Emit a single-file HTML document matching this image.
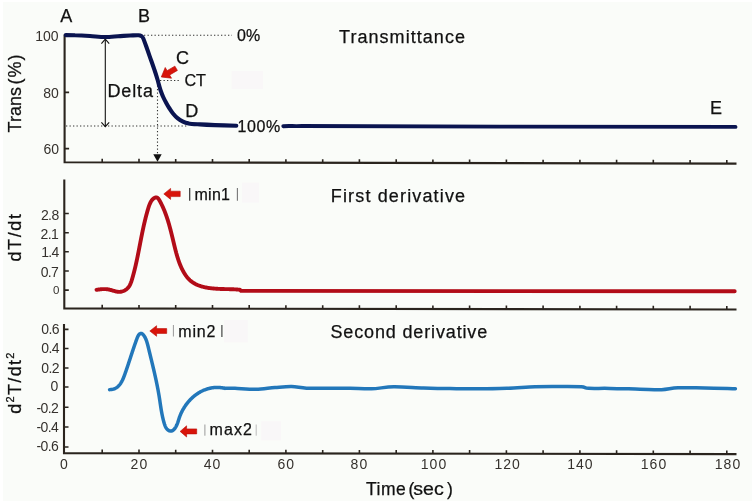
<!DOCTYPE html>
<html><head><meta charset="utf-8">
<style>
html,body{margin:0;padding:0;background:#fafcf9;}
body{width:755px;height:501px;overflow:hidden;}
svg{display:block;will-change:transform;}
text{font-family:"Liberation Sans",sans-serif;fill:#111;stroke:#111;stroke-width:0.25px;}
.tk,.tkd,.xt{stroke:none;}
.tk{font-size:14px;fill:#35312d;}
.tkd{font-size:14px;fill:#35312d;letter-spacing:-0.6px;}
.xt{font-size:14px;fill:#35312d;}
.big{font-size:18px;}
.ax{stroke:#2a241e;stroke-width:2.1;fill:none;}
.tic{stroke:#2a241e;stroke-width:1.6;fill:none;}
.dot{stroke:#333;stroke-width:1.1;stroke-dasharray:1.3 2.2;fill:none;}
</style></head>
<body>
<svg width="755" height="501" viewBox="0 0 755 501">
<rect x="0" y="0" width="755" height="501" fill="#fafcf9"/>

<!-- ============ TOP PANEL ============ -->
<path class="ax" d="M64.6 34.5 V162.3 L736.5 163.6"/>
<path class="tic" d="M64.6 92.4 h4.5 M64.6 148.6 h4.5"/>
<path class="tic" d="M102.2 162.37 v-3.6 M139.0 162.45 v-3.6 M175.7 162.52 v-3.6 M212.5 162.59 v-3.6 M249.2 162.66 v-3.6 M285.9 162.73 v-3.6 M322.7 162.80 v-3.6 M359.4 162.87 v-3.6 M396.2 162.94 v-3.6 M432.9 163.01 v-3.6 M469.6 163.08 v-3.6 M506.4 163.16 v-3.6 M543.1 163.23 v-3.6 M579.9 163.30 v-3.6 M616.6 163.37 v-3.6 M653.3 163.44 v-3.6 M690.1 163.51 v-3.6 M726.8 163.58 v-3.6"/>
<text class="tk" x="58.6" y="41" text-anchor="end">100</text>
<text class="tk" x="58.8" y="97.7" text-anchor="end">80</text>
<text class="tk" x="59" y="153.7" text-anchor="end">60</text>

<path class="dot" d="M144 35.3 H232"/>
<path class="dot" d="M160 80.5 H180"/>
<path class="dot" d="M66 126 H188"/>
<path class="dot" d="M157.5 82 V155"/>
<path d="M153.3 154.3 L161.7 154.3 L157.5 161.8 Z" fill="#111"/>
<path d="M105.3 39.2 V126.5" stroke="#111" stroke-width="1.1" fill="none"/>
<path d="M101.4 43.6 L105.3 39.2 L109.2 43.6 M101.4 122.3 L105.3 126.7 L109.2 122.3" stroke="#111" stroke-width="1.1" fill="none"/>

<path d="M65.8 35.1 C67.3 35.1 71.0 35.1 75.0 35.3 C79.0 35.4 85.0 35.7 90.0 36.0 C95.0 36.3 100.3 37.0 105.0 37.0 C109.7 37.0 113.8 36.5 118.0 36.2 C122.2 36.0 126.6 35.6 130.0 35.5 C133.4 35.4 136.6 35.2 138.5 35.3 C140.4 35.4 140.5 35.5 141.3 36.0 C142.1 36.5 142.3 36.2 143.3 38.5 C144.3 40.8 146.2 46.4 147.5 50.0 C148.8 53.6 149.8 56.7 151.0 60.0 C152.2 63.3 153.4 66.8 154.5 70.0 C155.6 73.2 156.7 76.8 157.5 79.5 C158.3 82.2 158.7 84.0 159.3 86.0 C159.9 88.0 160.3 89.7 161.0 91.5 C161.7 93.3 162.4 95.2 163.2 97.0 C164.0 98.8 165.0 100.7 166.0 102.5 C167.0 104.3 168.0 106.2 169.2 108.0 C170.4 109.8 171.6 111.8 173.0 113.5 C174.4 115.2 175.8 116.8 177.5 118.2 C179.2 119.6 181.2 120.8 183.0 121.7 C184.8 122.6 185.7 123.0 188.5 123.4 C191.3 123.9 195.6 124.1 200.0 124.4 C204.4 124.7 208.9 124.9 215.0 125.1 C221.1 125.3 232.8 125.7 236.3 125.8" stroke="#0a1450" stroke-width="4.1" fill="none" stroke-linecap="round" stroke-linejoin="round"/>
<path d="M283.3 126.2 C288 125.8 295 126.3 302 126 C330 126.2 400 126.4 500 126.6 C600 126.7 680 126.8 735.5 126.9" stroke="#0a1450" stroke-width="3.9" fill="none" stroke-linecap="round"/>

<text class="big" x="60.3" y="21.9">A</text>
<text class="big" x="137.9" y="21.9">B</text>
<text class="big" x="176.1" y="63.8">C</text>
<text x="184.4" y="85.9" style="font-size:16.2px">CT</text>
<text class="big" x="185.2" y="117">D</text>
<text class="big" x="710" y="114.4">E</text>
<text class="big" x="107.5" y="96.5" style="letter-spacing:0.85px">Delta</text>
<text x="237" y="41" style="font-size:16px">0%</text>
<text x="237.6" y="131.6" style="font-size:16px;letter-spacing:0.6px">100%</text>
<text class="big" x="339" y="43.1" style="letter-spacing:1.05px">Transmittance</text>
<text class="big" transform="translate(20.6,132.4) rotate(-90)">Trans<tspan dx="2.5">(</tspan><tspan dx="1">%</tspan><tspan dx="1">)</tspan></text>

<g transform="translate(161.30,77.00) rotate(149.6)" fill="#d8140a" stroke="#b80c06" stroke-width="0.6" stroke-linejoin="round"><path d="M0 0 L-8.20 -6.20 L-8.20 -2.50 L-17.20 -2.50 L-17.20 2.50 L-8.20 2.50 L-8.20 6.20 Z"/></g>

<!-- ============ MIDDLE PANEL ============ -->
<path class="ax" d="M64.3 179.5 V308.4 L736.5 309.5"/>
<path class="tic" d="M64.3 213.5 h4.5 M64.3 232.7 h4.5 M64.3 251.8 h4.5 M64.3 271 h4.5 M64.3 290.1 h4.5"/>
<path class="tic" d="M102.2 308.46 v-3.6 M139.0 308.52 v-3.6 M175.7 308.58 v-3.6 M212.5 308.64 v-3.6 M249.2 308.70 v-3.6 M285.9 308.76 v-3.6 M322.7 308.82 v-3.6 M359.4 308.88 v-3.6 M396.2 308.94 v-3.6 M432.9 309.00 v-3.6 M469.6 309.06 v-3.6 M506.4 309.12 v-3.6 M543.1 309.18 v-3.6 M579.9 309.24 v-3.6 M616.6 309.30 v-3.6 M653.3 309.36 v-3.6 M690.1 309.42 v-3.6 M726.8 309.48 v-3.6"/>
<text class="tkd" x="58.6" y="219.5" text-anchor="end">2.8</text>
<text class="tkd" x="58.2" y="238.8" text-anchor="end">2.1</text>
<text class="tkd" x="58.8" y="257" text-anchor="end">1.4</text>
<text class="tkd" x="58.3" y="277" text-anchor="end">0.7</text>
<text class="tk" x="59.5" y="294" text-anchor="end" style="font-size:11.5px">0</text>

<path d="M96.49 289.83 L97.19 289.73 L97.88 289.64 L98.57 289.54 L99.25 289.46 L99.93 289.37 L100.62 289.30 L101.30 289.23 L101.97 289.17 L102.65 289.13 L103.33 289.10 L104.00 289.08 L104.68 289.08 L105.35 289.10 L106.02 289.13 L106.70 289.19 L107.37 289.27 L108.05 289.38 L108.73 289.51 L109.41 289.66 L110.08 289.83 L110.76 290.01 L111.44 290.20 L112.12 290.40 L112.80 290.60 L113.48 290.80 L114.16 290.99 L114.84 291.17 L115.51 291.34 L116.19 291.49 L116.86 291.61 L117.54 291.72 L118.21 291.79 L118.88 291.84 L119.54 291.84 L120.21 291.80 L120.87 291.73 L121.52 291.61 L122.17 291.45 L122.81 291.25 L123.44 291.01 L124.06 290.74 L124.66 290.43 L125.24 290.09 L125.81 289.72 L126.36 289.32 L126.88 288.89 L127.38 288.43 L127.85 287.94 L128.30 287.43 L128.72 286.90 L129.10 286.34 L129.46 285.77 L129.80 285.17 L130.11 284.56 L130.40 283.94 L130.67 283.30 L130.93 282.65 L131.17 281.99 L131.40 281.33 L131.61 280.66 L131.82 279.99 L132.03 279.31 L132.23 278.63 L132.42 277.96 L132.62 277.28 L132.81 276.61 L132.99 275.93 L133.18 275.26 L133.36 274.59 L133.54 273.92 L133.72 273.25 L133.90 272.58 L134.07 271.91 L134.24 271.24 L134.41 270.57 L134.58 269.90 L134.74 269.24 L134.91 268.57 L135.07 267.90 L135.23 267.24 L135.38 266.57 L135.54 265.91 L135.69 265.25 L135.84 264.58 L135.99 263.92 L136.14 263.25 L136.29 262.59 L136.44 261.93 L136.58 261.27 L136.72 260.61 L136.86 259.94 L137.00 259.28 L137.14 258.62 L137.28 257.96 L137.42 257.30 L137.55 256.64 L137.69 255.98 L137.82 255.32 L137.96 254.66 L138.09 254.00 L138.22 253.34 L138.35 252.68 L138.48 252.02 L138.61 251.36 L138.74 250.70 L138.87 250.04 L139.00 249.37 L139.13 248.71 L139.26 248.05 L139.38 247.39 L139.51 246.73 L139.64 246.07 L139.76 245.41 L139.89 244.75 L140.02 244.08 L140.15 243.42 L140.27 242.76 L140.40 242.10 L140.53 241.43 L140.66 240.77 L140.79 240.10 L140.92 239.44 L141.05 238.77 L141.18 238.11 L141.31 237.44 L141.44 236.78 L141.57 236.11 L141.71 235.44 L141.84 234.77 L141.98 234.10 L142.11 233.43 L142.25 232.76 L142.39 232.09 L142.53 231.42 L142.67 230.75 L142.81 230.08 L142.95 229.40 L143.10 228.73 L143.24 228.05 L143.39 227.38 L143.54 226.70 L143.69 226.02 L143.84 225.35 L143.99 224.67 L144.15 223.99 L144.31 223.30 L144.46 222.62 L144.63 221.94 L144.79 221.25 L144.95 220.57 L145.12 219.88 L145.29 219.20 L145.46 218.51 L145.63 217.82 L145.81 217.13 L145.99 216.44 L146.17 215.74 L146.35 215.05 L146.54 214.35 L146.73 213.66 L146.92 212.96 L147.11 212.26 L147.31 211.56 L147.51 210.86 L147.71 210.15 L147.92 209.45 L148.12 208.75 L148.34 208.04 L148.56 207.35 L148.78 206.65 L149.02 205.97 L149.26 205.30 L149.52 204.64 L149.78 203.99 L150.06 203.36 L150.35 202.75 L150.65 202.16 L150.97 201.59 L151.30 201.04 L151.65 200.52 L152.02 200.03 L152.41 199.57 L152.82 199.14 L153.26 198.74 L153.71 198.39 L154.19 198.07 L154.68 197.79 L155.19 197.59 L155.70 197.46 L156.21 197.43 L156.70 197.50 L157.18 197.68 L157.63 197.96 L158.05 198.34 L158.45 198.80 L158.83 199.33 L159.19 199.91 L159.54 200.52 L159.88 201.14 L160.22 201.76 L160.55 202.38 L160.87 203.00 L161.19 203.63 L161.50 204.26 L161.81 204.89 L162.11 205.52 L162.41 206.15 L162.70 206.78 L162.99 207.42 L163.27 208.05 L163.55 208.69 L163.82 209.33 L164.09 209.97 L164.36 210.61 L164.62 211.25 L164.87 211.90 L165.12 212.54 L165.37 213.19 L165.61 213.84 L165.85 214.48 L166.08 215.13 L166.31 215.78 L166.54 216.44 L166.76 217.09 L166.99 217.74 L167.20 218.40 L167.42 219.05 L167.63 219.71 L167.83 220.36 L168.04 221.02 L168.24 221.68 L168.44 222.34 L168.63 223.00 L168.83 223.66 L169.02 224.32 L169.21 224.98 L169.39 225.65 L169.58 226.31 L169.76 226.97 L169.94 227.64 L170.11 228.30 L170.29 228.96 L170.47 229.63 L170.64 230.30 L170.81 230.96 L170.98 231.63 L171.15 232.29 L171.31 232.96 L171.48 233.63 L171.64 234.29 L171.81 234.96 L171.97 235.63 L172.13 236.30 L172.30 236.96 L172.46 237.63 L172.62 238.30 L172.78 238.97 L172.94 239.63 L173.10 240.30 L173.26 240.97 L173.42 241.64 L173.58 242.30 L173.74 242.97 L173.90 243.64 L174.06 244.30 L174.22 244.97 L174.38 245.63 L174.54 246.30 L174.71 246.96 L174.87 247.63 L175.04 248.29 L175.21 248.96 L175.37 249.62 L175.54 250.28 L175.72 250.94 L175.89 251.60 L176.07 252.26 L176.24 252.92 L176.43 253.58 L176.61 254.24 L176.80 254.90 L176.99 255.56 L177.18 256.21 L177.38 256.87 L177.58 257.52 L177.79 258.17 L178.00 258.83 L178.21 259.48 L178.43 260.13 L178.65 260.78 L178.88 261.43 L179.11 262.07 L179.35 262.72 L179.59 263.36 L179.84 264.01 L180.10 264.65 L180.36 265.29 L180.63 265.93 L180.90 266.57 L181.18 267.20 L181.47 267.84 L181.76 268.46 L182.06 269.09 L182.37 269.71 L182.69 270.33 L183.01 270.94 L183.34 271.54 L183.68 272.14 L184.03 272.74 L184.38 273.32 L184.75 273.90 L185.12 274.47 L185.50 275.03 L185.89 275.59 L186.29 276.13 L186.69 276.66 L187.11 277.19 L187.54 277.70 L187.97 278.20 L188.42 278.69 L188.87 279.17 L189.34 279.64 L189.81 280.09 L190.30 280.53 L190.80 280.95 L191.31 281.36 L191.82 281.76 L192.35 282.14 L192.89 282.51 L193.44 282.86 L194.00 283.20 L194.57 283.53 L195.15 283.85 L195.73 284.15 L196.33 284.44 L196.93 284.72 L197.54 284.99 L198.16 285.24 L198.78 285.48 L199.42 285.72 L200.06 285.94 L200.70 286.15 L201.36 286.35 L202.01 286.54 L202.68 286.73 L203.35 286.90 L204.03 287.06 L204.71 287.22 L205.39 287.36 L206.08 287.50 L206.78 287.63 L207.48 287.76 L208.18 287.87 L208.88 287.98 L209.59 288.08 L210.30 288.17 L211.02 288.26 L211.74 288.34 L212.45 288.42 L213.17 288.49 L213.90 288.55 L214.62 288.61 L215.34 288.67 L216.07 288.72 L216.80 288.77 L217.52 288.81 L218.25 288.85 L218.97 288.88 L219.70 288.92 L220.42 288.95 L221.15 288.97 L221.87 289.00 L222.59 289.02 L223.30 289.04 L224.02 289.06 L224.73 289.08 L225.44 289.10 L226.15 289.11 L226.86 289.13 L227.56 289.14 L228.25 289.16 L228.95 289.17 L229.64 289.19 L230.32 289.21 L231.00 289.23 L231.67 289.25 L232.34 289.27 L233.00 289.29 L233.66 289.32 L234.31 289.35 L234.96 289.38 L235.59 289.41 L236.22 289.45 L236.85 289.49 L237.46 289.54 L238.07 289.58 L238.67 289.64 L239.26 289.70 L239.84 289.76 L241 290.9 L734.7 291.3" stroke="#b20c18" stroke-width="3.9" fill="none" stroke-linecap="round" stroke-linejoin="round"/>

<text class="big" x="330.8" y="201.8" style="letter-spacing:1.15px">First derivative</text>
<text class="big" transform="translate(20.6,237) rotate(-90)" text-anchor="middle" style="letter-spacing:1.6px">dT/dt</text>

<g transform="translate(163.80,193.90) rotate(180.0)" fill="#d8140a" stroke="#b80c06" stroke-width="0.6" stroke-linejoin="round"><path d="M0 0 L-6.80 -5.50 L-6.80 -2.70 L-16.40 -2.70 L-16.40 2.70 L-6.80 2.70 L-6.80 5.50 Z"/></g>
<path d="M189.7 188 V200.7" stroke="#333" stroke-width="1.2"/>
<path d="M237.4 188 V200.7" stroke="#777" stroke-width="1.1"/>
<text x="194.6" y="199.9" style="font-size:16px;letter-spacing:0.2px">min1</text>

<!-- ============ BOTTOM PANEL ============ -->
<path class="ax" d="M64 324 V453.1 L736.5 454.1"/>
<path class="tic" d="M64 329.4 h4.5 M64 348.5 h4.5 M64 368 h4.5 M64 387 h4.5 M64 407.3 h4.5 M64 427 h4.5 M64 447 h4.5"/>
<path class="tic" d="M102.2 453.16 v-3.6 M139.0 453.21 v-3.6 M175.7 453.27 v-3.6 M212.5 453.32 v-3.6 M249.2 453.38 v-3.6 M285.9 453.43 v-3.6 M322.7 453.48 v-3.6 M359.4 453.54 v-3.6 M396.2 453.59 v-3.6 M432.9 453.65 v-3.6 M469.6 453.70 v-3.6 M506.4 453.76 v-3.6 M543.1 453.81 v-3.6 M579.9 453.87 v-3.6 M616.6 453.92 v-3.6 M653.3 453.98 v-3.6 M690.1 454.03 v-3.6 M726.8 454.09 v-3.6"/>
<text class="tkd" x="59" y="333.7" text-anchor="end">0.6</text>
<text class="tkd" x="59" y="353.3" text-anchor="end">0.4</text>
<text class="tkd" x="59" y="372.7" text-anchor="end">0.2</text>
<text class="tk" x="58.3" y="391.4" text-anchor="end">0</text>
<text class="tkd" x="58.3" y="412.8" text-anchor="end">-0.2</text>
<text class="tkd" x="58.3" y="431.8" text-anchor="end">-0.4</text>
<text class="tkd" x="58.3" y="451.4" text-anchor="end">-0.6</text>

<path d="M109.59 389.63 L110.33 389.60 L111.03 389.55 L111.71 389.46 L112.37 389.34 L113.01 389.19 L113.62 389.01 L114.21 388.81 L114.78 388.57 L115.33 388.31 L115.86 388.03 L116.37 387.72 L116.87 387.38 L117.34 387.03 L117.80 386.65 L118.24 386.25 L118.66 385.84 L119.07 385.40 L119.46 384.95 L119.84 384.47 L120.20 383.99 L120.55 383.49 L120.89 382.97 L121.21 382.44 L121.53 381.90 L121.83 381.35 L122.12 380.79 L122.41 380.22 L122.68 379.64 L122.95 379.06 L123.21 378.47 L123.46 377.87 L123.70 377.27 L123.94 376.66 L124.17 376.05 L124.40 375.45 L124.62 374.84 L124.84 374.23 L125.06 373.62 L125.27 373.01 L125.48 372.41 L125.69 371.81 L125.90 371.21 L126.11 370.62 L126.31 370.03 L126.52 369.43 L126.72 368.85 L126.92 368.26 L127.12 367.67 L127.31 367.09 L127.51 366.51 L127.70 365.92 L127.90 365.34 L128.09 364.76 L128.28 364.19 L128.47 363.61 L128.66 363.03 L128.85 362.45 L129.04 361.88 L129.23 361.30 L129.42 360.73 L129.61 360.15 L129.80 359.58 L129.99 359.00 L130.18 358.42 L130.37 357.85 L130.56 357.27 L130.74 356.69 L130.93 356.11 L131.12 355.53 L131.32 354.95 L131.51 354.37 L131.70 353.78 L131.89 353.20 L132.09 352.61 L132.28 352.02 L132.48 351.43 L132.68 350.84 L132.88 350.24 L133.08 349.64 L133.28 349.04 L133.48 348.44 L133.69 347.83 L133.89 347.23 L134.10 346.61 L134.31 346.00 L134.53 345.38 L134.74 344.76 L134.96 344.14 L135.18 343.51 L135.40 342.88 L135.63 342.24 L135.85 341.60 L136.08 340.96 L136.32 340.31 L136.55 339.66 L136.79 339.00 L137.04 338.34 L137.29 337.69 L137.55 337.06 L137.83 336.45 L138.12 335.87 L138.44 335.33 L138.78 334.84 L139.15 334.41 L139.56 334.05 L139.98 333.76 L140.43 333.56 L140.88 333.45 L141.33 333.44 L141.77 333.54 L142.19 333.75 L142.58 334.06 L142.96 334.43 L143.32 334.83 L143.67 335.25 L144.00 335.69 L144.31 336.15 L144.61 336.63 L144.89 337.12 L145.16 337.63 L145.42 338.16 L145.67 338.69 L145.90 339.25 L146.13 339.81 L146.34 340.38 L146.55 340.96 L146.75 341.56 L146.94 342.16 L147.12 342.77 L147.30 343.38 L147.47 344.00 L147.64 344.63 L147.80 345.26 L147.96 345.89 L148.12 346.52 L148.27 347.16 L148.43 347.79 L148.58 348.43 L148.73 349.06 L148.89 349.70 L149.04 350.33 L149.20 350.96 L149.35 351.59 L149.50 352.22 L149.66 352.85 L149.81 353.48 L149.96 354.11 L150.11 354.73 L150.27 355.36 L150.42 355.98 L150.57 356.60 L150.72 357.23 L150.87 357.85 L151.02 358.47 L151.18 359.09 L151.33 359.71 L151.48 360.33 L151.63 360.95 L151.78 361.57 L151.92 362.18 L152.07 362.80 L152.22 363.41 L152.37 364.03 L152.52 364.64 L152.66 365.26 L152.81 365.87 L152.96 366.48 L153.10 367.10 L153.25 367.71 L153.39 368.32 L153.53 368.93 L153.68 369.54 L153.82 370.15 L153.96 370.76 L154.10 371.37 L154.24 371.98 L154.38 372.59 L154.52 373.20 L154.66 373.80 L154.80 374.41 L154.93 375.02 L155.07 375.62 L155.20 376.23 L155.34 376.84 L155.47 377.44 L155.61 378.05 L155.74 378.66 L155.87 379.26 L156.00 379.87 L156.13 380.47 L156.26 381.08 L156.39 381.68 L156.51 382.29 L156.64 382.89 L156.76 383.50 L156.89 384.10 L157.01 384.71 L157.13 385.31 L157.25 385.92 L157.37 386.52 L157.49 387.13 L157.61 387.73 L157.72 388.34 L157.84 388.94 L157.95 389.55 L158.07 390.15 L158.18 390.76 L158.29 391.36 L158.40 391.97 L158.51 392.58 L158.61 393.18 L158.72 393.79 L158.82 394.40 L158.93 395.00 L159.03 395.61 L159.13 396.22 L159.23 396.83 L159.33 397.43 L159.42 398.04 L159.52 398.65 L159.61 399.26 L159.70 399.87 L159.80 400.48 L159.89 401.09 L159.98 401.71 L160.07 402.32 L160.16 402.93 L160.25 403.55 L160.34 404.16 L160.44 404.77 L160.53 405.39 L160.62 406.01 L160.72 406.62 L160.81 407.24 L160.91 407.86 L161.01 408.48 L161.11 409.10 L161.21 409.72 L161.32 410.35 L161.42 410.97 L161.53 411.60 L161.65 412.22 L161.76 412.85 L161.88 413.48 L162.00 414.11 L162.13 414.74 L162.26 415.37 L162.39 416.00 L162.52 416.64 L162.66 417.27 L162.81 417.91 L162.96 418.55 L163.11 419.19 L163.27 419.83 L163.44 420.48 L163.61 421.12 L163.78 421.77 L163.96 422.42 L164.15 423.06 L164.35 423.70 L164.55 424.34 L164.77 424.96 L165.00 425.57 L165.25 426.17 L165.51 426.74 L165.79 427.29 L166.09 427.82 L166.41 428.32 L166.75 428.79 L167.12 429.23 L167.51 429.63 L167.93 429.98 L168.37 430.30 L168.85 430.57 L169.35 430.79 L169.87 430.95 L170.41 431.05 L170.96 431.07 L171.50 431.02 L172.04 430.87 L172.56 430.63 L173.07 430.30 L173.55 429.88 L174.01 429.41 L174.44 428.91 L174.84 428.39 L175.21 427.87 L175.56 427.33 L175.89 426.79 L176.19 426.23 L176.48 425.67 L176.74 425.11 L176.99 424.53 L177.23 423.96 L177.45 423.37 L177.67 422.79 L177.87 422.20 L178.07 421.60 L178.26 421.01 L178.45 420.41 L178.64 419.81 L178.83 419.22 L179.02 418.62 L179.22 418.02 L179.42 417.43 L179.63 416.83 L179.85 416.24 L180.08 415.66 L180.31 415.07 L180.55 414.49 L180.80 413.91 L181.06 413.33 L181.33 412.76 L181.60 412.19 L181.88 411.62 L182.17 411.06 L182.46 410.50 L182.76 409.94 L183.07 409.39 L183.38 408.84 L183.71 408.30 L184.04 407.76 L184.37 407.22 L184.72 406.69 L185.07 406.16 L185.42 405.64 L185.79 405.13 L186.15 404.61 L186.53 404.11 L186.91 403.60 L187.30 403.11 L187.70 402.62 L188.10 402.13 L188.50 401.65 L188.92 401.18 L189.34 400.71 L189.76 400.24 L190.19 399.79 L190.63 399.34 L191.07 398.89 L191.52 398.46 L191.97 398.03 L192.43 397.60 L192.90 397.19 L193.37 396.78 L193.84 396.37 L194.32 395.98 L194.81 395.59 L195.30 395.21 L195.79 394.83 L196.29 394.47 L196.80 394.11 L197.31 393.76 L197.82 393.42 L198.34 393.09 L198.87 392.76 L199.40 392.44 L199.93 392.14 L200.47 391.84 L201.01 391.54 L201.56 391.26 L202.11 390.99 L202.66 390.73 L203.22 390.47 L203.78 390.23 L204.35 389.99 L204.92 389.77 L205.49 389.55 L206.07 389.34 L206.65 389.15 L207.24 388.96 L207.83 388.78 L208.42 388.62 L209.02 388.46 L209.61 388.32 L210.22 388.19 L210.82 388.06 L211.43 387.95 L212.04 387.85 L212.66 387.76 L213.27 387.68 L213.89 387.61 L214.52 387.56 L215.14 387.52 L215.77 387.48 L216.40 387.46 L217.03 387.46 L217.67 387.46 L218.31 387.48 L218.95 387.51 L219.59 387.55 L220.24 387.60 L220.88 387.67 L221.53 387.75 L222.18 387.84 L222.84 387.95 L223.49 388.07 L224.15 388.20 L224.81 388.35 L224.7 388.2 C226.4 388.2 229.8 388.1 235.0 388.3 C240.2 388.5 249.3 389.4 256.0 389.3 C262.7 389.2 269.1 387.9 275.0 387.5 C280.9 387.1 286.4 386.5 291.6 386.6 C296.9 386.7 300.1 387.9 306.5 388.2 C312.9 388.5 322.8 388.2 330.0 388.2 C337.2 388.2 343.1 388.1 350.0 388.2 C356.9 388.3 364.2 389.0 371.5 388.8 C378.8 388.6 385.1 386.9 393.8 386.8 C402.5 386.7 414.1 387.7 423.5 388.0 C432.9 388.3 440.6 388.5 450.0 388.6 C459.4 388.7 470.5 388.9 480.0 388.8 C489.5 388.8 497.8 388.6 507.0 388.3 C516.2 388.0 526.2 387.1 535.0 386.8 C543.8 386.5 552.3 386.6 560.0 386.6 C567.7 386.6 576.5 386.5 581.3 386.8 C586.1 387.1 583.9 388.0 588.7 388.3 C593.5 388.6 601.5 388.2 610.0 388.4 C618.5 388.5 631.4 389.0 640.0 389.2 C648.6 389.4 655.3 389.9 661.6 389.7 C667.9 389.5 670.8 388.1 678.0 387.8 C685.2 387.5 695.4 387.9 705.0 388.0 C714.6 388.1 730.3 388.6 735.4 388.7" stroke="#2277ba" stroke-width="3.5" fill="none" stroke-linecap="round" stroke-linejoin="round"/>

<text class="big" x="330.5" y="337.7" style="letter-spacing:0.85px">Second derivative</text>
<text class="big" transform="translate(20.6,382.5) rotate(-90)" text-anchor="middle" style="letter-spacing:1.3px">d<tspan dy="-7" style="font-size:11px">2</tspan><tspan dy="7">T/dt</tspan><tspan dy="-7" style="font-size:11px">2</tspan></text>

<g transform="translate(149.80,331.00) rotate(180.0)" fill="#d8140a" stroke="#b80c06" stroke-width="0.6" stroke-linejoin="round"><path d="M0 0 L-6.80 -5.30 L-6.80 -2.40 L-16.90 -2.40 L-16.90 2.40 L-6.80 2.40 L-6.80 5.30 Z"/></g>
<path d="M173.4 325 V336.5" stroke="#999" stroke-width="1"/>
<path d="M221.9 325 V337" stroke="#333" stroke-width="1.1"/>
<text x="178.3" y="336.5" style="font-size:16px;letter-spacing:0.8px">min2</text>

<g transform="translate(180.10,431.40) rotate(180.0)" fill="#d8140a" stroke="#b80c06" stroke-width="0.6" stroke-linejoin="round"><path d="M0 0 L-6.50 -5.60 L-6.50 -2.50 L-16.60 -2.50 L-16.60 2.50 L-6.50 2.50 L-6.50 5.60 Z"/></g>
<path d="M204.9 424.5 V435.7" stroke="#999" stroke-width="1"/>
<path d="M256.2 424.5 V435.7" stroke="#bbb" stroke-width="1"/>
<text x="209.5" y="435.3" style="font-size:16px;letter-spacing:1.1px">max2</text>

<g class="xt" text-anchor="middle">
<text class="xt" x="64" y="469.4">0</text>
<text class="xt" x="139.4" y="469.4" style="letter-spacing:1px">20</text>
<text class="xt" x="212.5" y="469.4" style="letter-spacing:1px">40</text>
<text class="xt" x="286.3" y="469.4" style="letter-spacing:1px">60</text>
<text class="xt" x="359.4" y="469.4" style="letter-spacing:1px">80</text>
<text class="xt" x="434" y="469.4" style="letter-spacing:1px">100</text>
<text class="xt" x="507.7" y="469.4" style="letter-spacing:1px">120</text>
<text class="xt" x="580.4" y="469.4" style="letter-spacing:1px">140</text>
<text class="xt" x="654" y="469.4" style="letter-spacing:1px">160</text>
<text class="xt" x="728" y="469.4" style="letter-spacing:1px">180</text>
</g>
<text x="366" y="495.1" style="font-size:17.5px;letter-spacing:0.5px">Time</text>
<text x="408.5" y="495.1" style="font-size:17.5px">(</text>
<text transform="translate(413.3,495.1) scale(1.12,1)" style="font-size:17.5px">sec</text>
<text x="447" y="495.1" style="font-size:17.5px">)</text>

<rect x="231.5" y="71" width="31.5" height="18" fill="#f9f7f8"/>
<rect x="242" y="182.6" width="17" height="20" fill="#f9f7f8"/>
<rect x="224" y="320" width="23.8" height="22.5" fill="#f9f7f8"/>
<rect x="261.3" y="421.3" width="19.7" height="19.2" fill="#f9f7f8"/>
<rect x="0" y="0" width="755" height="2" fill="#fff"/>
<rect x="0" y="0" width="3" height="501" fill="#fff"/>
<rect x="752" y="0" width="3" height="501" fill="#fff"/>
</svg>
</body></html>
